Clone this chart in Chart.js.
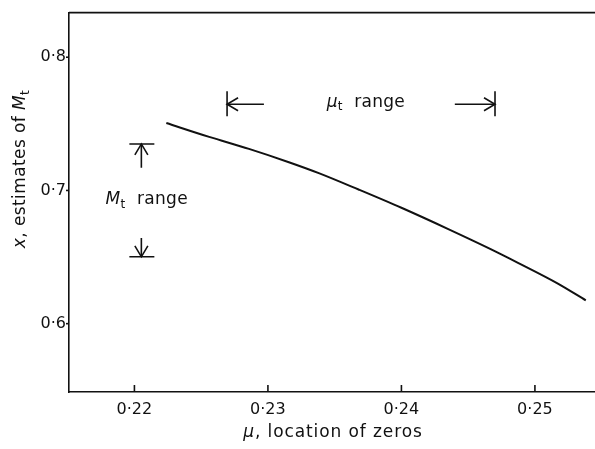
<!DOCTYPE html>
<html>
<head>
<meta charset="utf-8">
<script src="https://cdn.jsdelivr.net/npm/chart.js@4.4.1/dist/chart.umd.min.js"></script>
<style>
html,body{margin:0;padding:0;background:#fff;}
#wrap{width:595px;height:449px;position:relative;}
</style>
</head>
<body>
<div id="wrap"><canvas id="c"></canvas></div>
<script>
// ---- data ----
const muValues = [0.22239, 0.22560, 0.22858, 0.23157, 0.23381, 0.23679, 0.24000, 0.24351, 0.24649, 0.24873, 0.25172, 0.25381];
const xEstimates = [0.7506, 0.7402, 0.7312, 0.7212, 0.7130, 0.7007, 0.6870, 0.6710, 0.6569, 0.6457, 0.6301, 0.6175];
const xTickValues = [0.22, 0.23, 0.24, 0.25];
const xTickLabels = ['0·22', '0·23', '0·24', '0·25'];
const yTickValues = [0.6, 0.7, 0.8];
const yTickLabels = ['0·6', '0·7', '0·8'];
// annotation ranges (data coordinates)
const muRangeEnds = [0.22694, 0.24701];
const muRangeShaftEnds = [0.2297, 0.2440];
const muRangeY = 0.7647;
const mtRangeEnds = [0.6502, 0.7349];
const mtRangeShaftEnds = [0.6643, 0.7171];
const mtRangeX = 0.22052;
const mtLabelPos = [0.21784, 0.6933];
const muLabelPos = [0.23440, 0.7662];

const INK = '#111';
const FONT = '"DejaVu Sans", sans-serif';

function drawParts(ctx, parts, x, y, size, align, spacing) {
  // parts: [text, italic, sub]
  ctx.letterSpacing = (spacing || 0) + 'px';
  let total = 0;
  const widths = parts.map(p => {
    ctx.font = (p[1] ? 'italic ' : '') + (p[2] ? Math.round(size*0.7) : size) + 'px ' + FONT;
    const w = ctx.measureText(p[0]).width; total += w; return w;
  });
  let cx = align === 'center' ? x - total/2 : x;
  parts.forEach((p, i) => {
    ctx.font = (p[1] ? 'italic ' : '') + (p[2] ? Math.round(size*0.7) : size) + 'px ' + FONT;
    ctx.fillText(p[0], cx, y + (p[2] ? size*0.3 : 0));
    cx += widths[i];
  });
  ctx.letterSpacing = '0px';
}

function chevron(ctx, tx, ty, dx, dy) {
  const L = 11, W = 6.5;
  const bx = tx - dx*L, by = ty - dy*L;
  const px = -dy, py = dx;
  ctx.beginPath();
  ctx.moveTo(bx + px*W, by + py*W);
  ctx.lineTo(tx, ty);
  ctx.lineTo(bx - px*W, by - py*W);
  ctx.stroke();
}

const decor = {
  id: 'decor',
  afterDraw(chart) {
    const ctx = chart.ctx, a = chart.chartArea;
    const xs = chart.scales.x, ys = chart.scales.y;
    ctx.save();
    ctx.strokeStyle = INK; ctx.fillStyle = INK; ctx.lineWidth = 1.6;
    // top border
    ctx.beginPath(); ctx.moveTo(a.left, a.top); ctx.lineTo(a.right, a.top); ctx.stroke();
    // x ticks inward
    xTickValues.forEach(v => {
      const px = xs.getPixelForValue(v);
      ctx.beginPath(); ctx.moveTo(px, a.bottom); ctx.lineTo(px, a.bottom - 7); ctx.stroke();
    });
    yTickValues.forEach(v => {
      const py = ys.getPixelForValue(v);
      ctx.beginPath(); ctx.moveTo(a.left - 3, py); ctx.lineTo(a.left, py); ctx.stroke();
    });
    // mu_t range arrows
    const yA = ys.getPixelForValue(muRangeY);
    const xl = xs.getPixelForValue(muRangeEnds[0]), xr = xs.getPixelForValue(muRangeEnds[1]);
    const sl = xs.getPixelForValue(muRangeShaftEnds[0]), sr = xs.getPixelForValue(muRangeShaftEnds[1]);
    ctx.beginPath();
    ctx.moveTo(xl, yA - 13); ctx.lineTo(xl, yA + 12);
    ctx.moveTo(xr, yA - 13); ctx.lineTo(xr, yA + 12);
    ctx.moveTo(xl, yA); ctx.lineTo(sl, yA);
    ctx.moveTo(sr, yA); ctx.lineTo(xr, yA);
    ctx.stroke();
    chevron(ctx, xl, yA, -1, 0);
    chevron(ctx, xr, yA, 1, 0);
    // M_t range arrows
    const xm = xs.getPixelForValue(mtRangeX);
    const yb = ys.getPixelForValue(mtRangeEnds[0]), yt = ys.getPixelForValue(mtRangeEnds[1]);
    const sb = ys.getPixelForValue(mtRangeShaftEnds[0]), st = ys.getPixelForValue(mtRangeShaftEnds[1]);
    ctx.beginPath();
    ctx.moveTo(xm - 12, yt); ctx.lineTo(xm + 13, yt);
    ctx.moveTo(xm - 12, yb); ctx.lineTo(xm + 13, yb);
    ctx.moveTo(xm, st); ctx.lineTo(xm, yt);
    ctx.moveTo(xm, sb); ctx.lineTo(xm, yb);
    ctx.stroke();
    chevron(ctx, xm, yt, 0, -1);
    chevron(ctx, xm, yb, 0, 1);
    // labels
    ctx.textBaseline = 'middle'; ctx.textAlign = 'left';
    drawParts(ctx, [['M', true, false], ['t', false, true], ['  range', false, false]],
      xs.getPixelForValue(mtLabelPos[0]), ys.getPixelForValue(mtLabelPos[1]), 17, 'left', 0.3);
    drawParts(ctx, [['μ', true, false], ['t', false, true], ['  range', false, false]],
      xs.getPixelForValue(muLabelPos[0]), ys.getPixelForValue(muLabelPos[1]), 17, 'left', 0.3);
    // axis titles
    drawParts(ctx, [['μ', true, false], [', location of zeros', false, false]], 333, 433, 17, 'center', 0.9);
    ctx.save();
    ctx.translate(21, 169); ctx.rotate(-Math.PI/2);
    drawParts(ctx, [['x', true, false], [', estimates of ', false, false], ['M', true, false], ['t', false, true]], 0, 0, 17, 'center', 0.4);
    ctx.restore();
    ctx.restore();
  }
};

new Chart(document.getElementById('c'), {
  type: 'scatter',
  data: {
    datasets: [{
      data: muValues.map((m, i) => ({x: m, y: xEstimates[i]})),
      showLine: true, borderColor: INK, borderWidth: 2, pointRadius: 0,
      cubicInterpolationMode: 'monotone', fill: false
    }]
  },
  options: {
    responsive: true, maintainAspectRatio: false, animation: false,
    devicePixelRatio: 1,
    layout: {padding: {top: 9, right: 0, left: 0, bottom: 0}},
    plugins: {legend: {display: false}, tooltip: {enabled: false}},
    scales: {
      x: {
        type: 'linear', min: 0.2151, max: 0.2545,
        afterBuildTicks: s => { s.ticks = xTickValues.map(v => ({value: v})); },
        afterFit: s => { s.height = 57; },
        grid: {display: true, drawOnChartArea: false, drawTicks: false},
        border: {display: true, color: INK, width: 1.6},
        ticks: {
          padding: 8, color: INK, font: {family: FONT, size: 16},
          callback: (v) => xTickLabels[xTickValues.findIndex(t => Math.abs(t - v) < 1e-9)]
        }
      },
      y: {
        type: 'linear', min: 0.5487, max: 0.8335,
        afterBuildTicks: s => { s.ticks = yTickValues.map(v => ({value: v})); },
        afterFit: s => { s.width = 69; },
        grid: {display: true, drawOnChartArea: false, drawTicks: false},
        border: {display: true, color: INK, width: 1.6},
        ticks: {
          padding: 3, color: INK, font: {family: FONT, size: 16},
          callback: (v) => yTickLabels[yTickValues.findIndex(t => Math.abs(t - v) < 1e-9)]
        }
      }
    }
  },
  plugins: [decor]
});
</script>
</body>
</html>
